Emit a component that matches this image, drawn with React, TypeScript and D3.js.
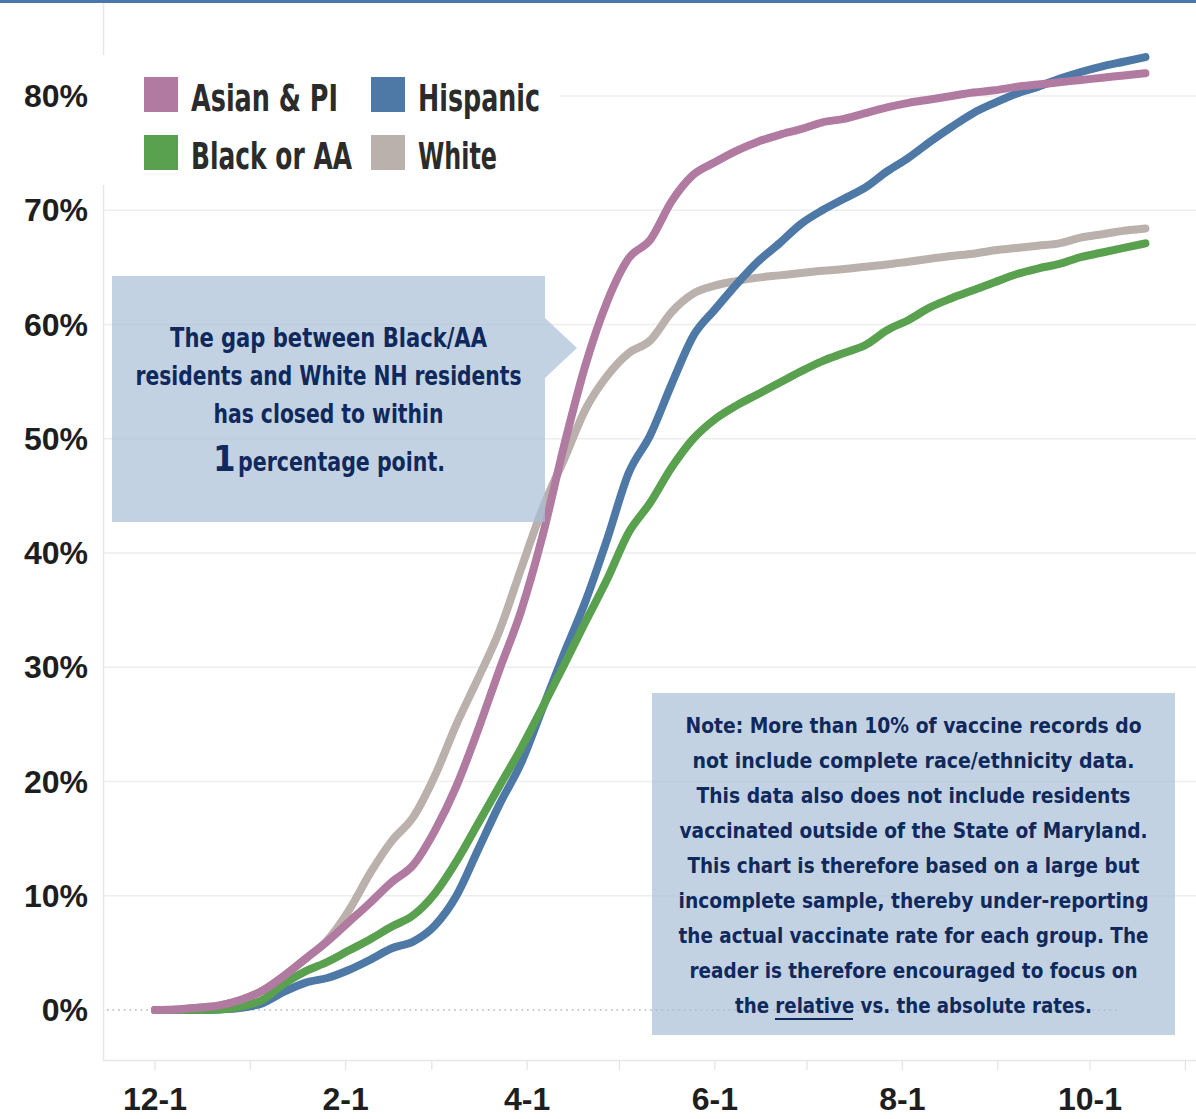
import * as d3 from 'd3';

// weekly observation dates (cumulative share of residents with at least one dose)
const weeks = [
  '2020-12-01', '2020-12-08', '2020-12-15', '2020-12-22', '2020-12-29',
  '2021-01-05', '2021-01-12', '2021-01-19', '2021-01-26', '2021-02-02',
  '2021-02-09', '2021-02-16', '2021-02-23', '2021-03-02', '2021-03-09',
  '2021-03-16', '2021-03-23', '2021-03-30', '2021-04-06', '2021-04-13',
  '2021-04-20', '2021-04-27', '2021-05-04', '2021-05-11', '2021-05-18',
  '2021-05-25', '2021-06-01', '2021-06-08', '2021-06-15', '2021-06-22',
  '2021-06-29', '2021-07-06', '2021-07-13', '2021-07-20', '2021-07-27',
  '2021-08-03', '2021-08-10', '2021-08-17', '2021-08-24', '2021-08-31',
  '2021-09-07', '2021-09-14', '2021-09-21', '2021-09-28', '2021-10-05',
  '2021-10-12', '2021-10-19',
];

const asianPI = [
  0, 0.05, 0.2, 0.4, 0.9, 1.7, 3.0, 4.5, 6.0, 7.7,
  9.4, 11.2, 12.7, 15.7, 19.6, 24.5, 29.8, 34.9, 41.5, 49.4,
  56.5, 62.0, 65.8, 67.4, 70.8, 73.1, 74.2, 75.2, 76.0, 76.6,
  77.1, 77.7, 78.0, 78.5, 79.0, 79.4, 79.7, 80.0, 80.3, 80.5,
  80.8, 81.0, 81.2, 81.4, 81.6, 81.8, 82.0,
];

const hispanic = [
  0, 0, 0, 0.05, 0.2, 0.6, 1.6, 2.4, 2.8, 3.5,
  4.4, 5.4, 6.0, 7.4, 10.0, 14.0, 18.0, 21.6, 26.4, 31.2,
  35.8, 41.2, 47.0, 50.3, 54.8, 59.0, 61.3, 63.5, 65.5, 67.1,
  68.8, 70.0, 71.0, 72.0, 73.4, 74.6, 76.0, 77.3, 78.5, 79.4,
  80.2, 80.8, 81.5, 82.1, 82.6, 83.0, 83.4,
];

const blackAA = [
  0, 0, 0, 0.05, 0.3, 0.9, 2.3, 3.4, 4.2, 5.2,
  6.2, 7.3, 8.3, 10.2, 13.0, 16.3, 19.6, 22.9, 26.5, 30.2,
  34.0, 37.7, 41.8, 44.4, 47.5, 50.0, 51.7, 52.9, 53.9, 54.9,
  55.9, 56.8, 57.5, 58.2, 59.5, 60.4, 61.5, 62.3, 63.0, 63.7,
  64.4, 64.9, 65.3, 65.9, 66.3, 66.7, 67.1,
];

const white = [
  0, 0.05, 0.2, 0.4, 0.9, 1.7, 3.0, 4.5, 6.1, 8.7,
  12.0, 14.8, 16.9, 20.5, 25.0, 29.0, 33.2, 38.6, 43.9, 48.2,
  52.6, 55.5, 57.5, 58.6, 61.1, 62.7, 63.4, 63.8, 64.1, 64.3,
  64.5, 64.7, 64.85, 65.05, 65.25, 65.5, 65.75, 66.0, 66.2, 66.5,
  66.7, 66.9, 67.1, 67.6, 67.9, 68.2, 68.4,
];

const yTicks = [0, 10, 20, 30, 40, 50, 60, 70, 80];
const xLabelDates = ['2020-12-01', '2021-02-01', '2021-04-01', '2021-06-01', '2021-08-01', '2021-10-01'];
const xLabels = ['12-1', '2-1', '4-1', '6-1', '8-1', '10-1'];

const legendNames = ['Asian & PI', 'Hispanic', 'Black or AA', 'White'];

const calloutLines = ['The gap between Black/AA', 'residents and White NH residents', 'has closed to within'];
const calloutWidths = [317, 386, 230];

const noteLines = [
  'Note: More than 10% of vaccine records do',
  'not include complete race/ethnicity data.',
  'This data also does not include residents',
  'vaccinated outside of the State of Maryland.',
  'This chart is therefore based on a large but',
  'incomplete sample, thereby under-reporting',
  'the actual vaccinate rate for each group. The',
  'reader is therefore encouraged to focus on',
  'the relative vs. the absolute rates.',
];
const noteWidths = [456, 442, 434, 468, 452, 470, 470, 448, 357];

const COLORS = {
  asian: '#b07aa1',
  hispanic: '#4e79a7',
  black: '#59a14f',
  white: '#bab0ac',
};

const W = 1196;
const H = 1119;

const parse = d3.timeParse('%Y-%m-%d');
const NAVY = '#10295c';
const BOX = '#aabfd6';
const AXIS_FONT = "'Liberation Sans', Arial, sans-serif";
const NARROW = "'Liberation Sans Narrow', 'DejaVu Sans Condensed', 'Liberation Sans', sans-serif";

export default function App() {
  const x = d3.scaleTime()
    .domain([new Date(2020, 11, 1), new Date(2021, 10, 1)])
    .range([155, 1185.4]);
  const y = d3.scaleLinear().domain([0, 80]).range([1010, 96]);

  const dates = weeks.map(d => parse(d) as Date);

  const line = d3.line<number>()
    .x((_, i) => x(dates[i]))
    .y(d => y(d))
    .curve(d3.curveMonotoneX);

  // drawing order: bottom to top
  const series = [
    { values: white, color: COLORS.white },
    { values: hispanic, color: COLORS.hispanic },
    { values: blackAA, color: COLORS.black },
    { values: asianPI, color: COLORS.asian },
  ];

  const monthTicks = x.ticks(d3.timeMonth.every(1) as d3.TimeInterval);

  const legendItems = [
    { name: legendNames[0], color: COLORS.asian, col: 0, row: 0, w: 147 },
    { name: legendNames[1], color: COLORS.hispanic, col: 1, row: 0, w: 122 },
    { name: legendNames[2], color: COLORS.black, col: 0, row: 1, w: 161 },
    { name: legendNames[3], color: COLORS.white, col: 1, row: 1, w: 79 },
  ];

  return (
    <svg
      width={W}
      height={H}
      viewBox={`0 0 ${W} ${H}`}
      style={{ position: 'absolute', left: 0, top: 0, background: '#fff' }}
    >
      <rect x={0} y={0} width={W} height={H} fill="#fff" />

      {/* gridlines */}
      {yTicks.filter(t => t > 0).map(t => (
        <line key={t} x1={103} x2={W} y1={y(t)} y2={y(t)} stroke="#ededed" strokeWidth={1.5} />
      ))}

      {/* frame */}
      <line x1={103.5} x2={103.5} y1={0} y2={1061} stroke="#e6e6e6" strokeWidth={1.5} />
      <line x1={103} x2={W} y1={1060.5} y2={1060.5} stroke="#e6e6e6" strokeWidth={1.5} />
      {monthTicks.map(t => (
        <line key={+t} x1={x(t)} x2={x(t)} y1={1061} y2={1070} stroke="#e3e3e3" strokeWidth={1.2} />
      ))}

      {/* zero line */}
      <line x1={107} x2={1118} y1={y(0)} y2={y(0)} stroke="#b5b5b5" strokeWidth={1.6} strokeDasharray="1.6 4" />

      {/* y labels */}
      {yTicks.map(t => (
        <text
          key={t}
          x={88}
          y={y(t) + 11}
          textAnchor="end"
          fontFamily={AXIS_FONT}
          fontWeight="bold"
          fontSize={32}
          fill="#1e1e1e"
        >
          {`${t}%`}
        </text>
      ))}

      {/* x labels */}
      {xLabels.map((lab, i) => (
        <text
          key={lab}
          x={x(parse(xLabelDates[i]) as Date)}
          y={1110}
          textAnchor="middle"
          fontFamily={AXIS_FONT}
          fontWeight="bold"
          fontSize={32}
          fill="#1e1e1e"
        >
          {lab}
        </text>
      ))}

      {/* series */}
      {series.map((s, i) => (
        <path
          key={i}
          d={line(s.values) || ''}
          fill="none"
          stroke={s.color}
          strokeWidth={8}
          strokeLinecap="round"
          strokeLinejoin="round"
        />
      ))}

      {/* legend */}
      <rect x={95} y={55} width={465} height={130} fill="#fff" />
      {legendItems.map(it => {
        const sx = it.col === 0 ? 144 : 371;
        const sy = it.row === 0 ? 77 : 135;
        return (
          <g key={it.name}>
            <rect x={sx} y={sy} width={34} height={35} fill={it.color} />
            <text
              x={sx + 47}
              y={sy + 34}
              fontFamily={NARROW}
              fontWeight="bold"
              fontSize={38}
              fill="#2b2b2b"
              textLength={it.w}
              lengthAdjust="spacingAndGlyphs"
            >
              {it.name}
            </text>
          </g>
        );
      })}

      {/* callout box */}
      <path d="M112,276 H545 V318 L577,348 L545,378 V522 H112 Z" fill={BOX} fillOpacity={0.7} />
      {calloutLines.map((l, i) => (
        <text
          key={l}
          x={328.5}
          y={347 + i * 38}
          textAnchor="middle"
          fontFamily={NARROW}
          fontWeight="bold"
          fontSize={27}
          fill={NAVY}
          textLength={calloutWidths[i]}
          lengthAdjust="spacingAndGlyphs"
        >
          {l}
        </text>
      ))}
      <text x={213} y={471} fontFamily={NARROW} fontWeight="bold" fontSize={36} fill={NAVY}>1</text>
      <text
        x={238}
        y={471}
        fontFamily={NARROW}
        fontWeight="bold"
        fontSize={27}
        fill={NAVY}
        textLength={207}
        lengthAdjust="spacingAndGlyphs"
      >
        percentage point.
      </text>

      {/* note box */}
      <rect x={652} y={693} width={523} height={342} fill={BOX} fillOpacity={0.7} />
      {noteLines.map((l, i) => (
        <text
          key={l}
          x={913.5}
          y={733 + i * 35}
          textAnchor="middle"
          fontFamily={NARROW}
          fontWeight="bold"
          fontSize={21.5}
          fill={NAVY}
          textLength={noteWidths[i]}
          lengthAdjust="spacingAndGlyphs"
        >
          {l}
        </text>
      ))}
      {/* underline for "relative" */}
      <line x1={775} x2={853} y1={1019} y2={1019} stroke={NAVY} strokeWidth={1.8} />

      {/* top rule */}
      <rect x={0} y={0} width={W} height={3} fill="#4a77a9" />
    </svg>
  );
}
